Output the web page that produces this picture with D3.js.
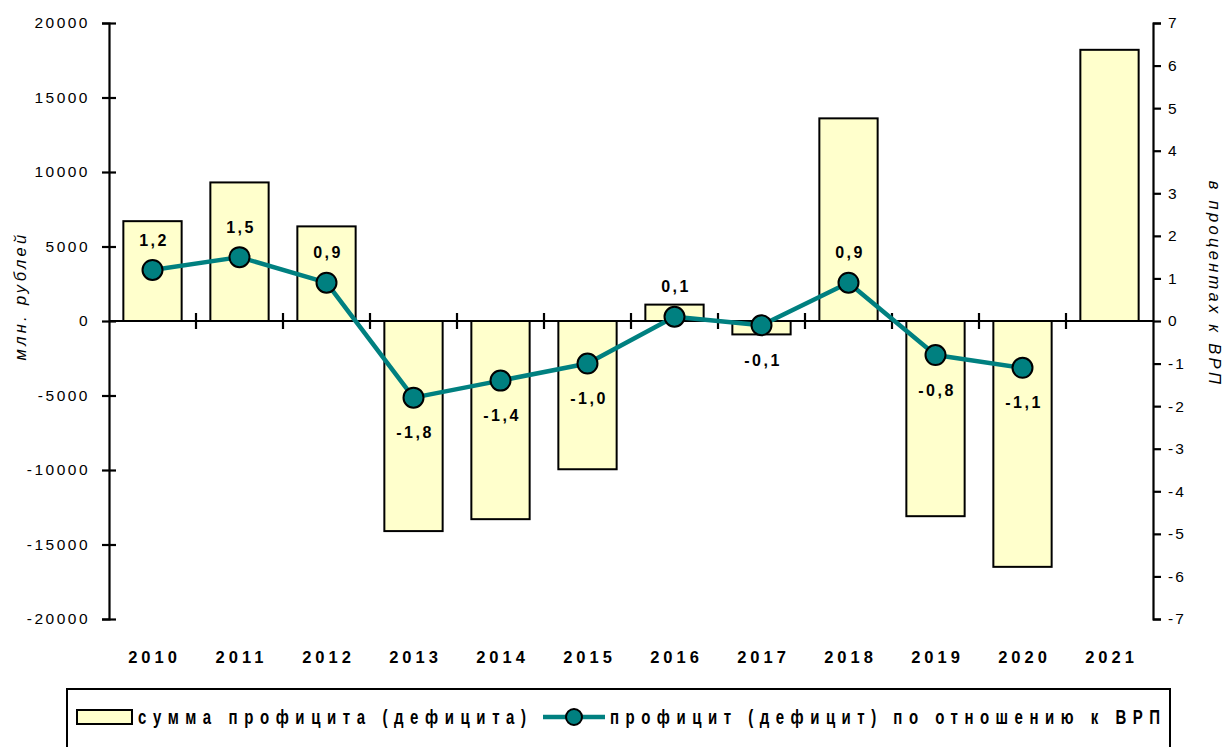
<!DOCTYPE html>
<html>
<head>
<meta charset="utf-8">
<script src="https://cdn.jsdelivr.net/npm/d3@7/dist/d3.min.js"></script>
<style>
  html, body { margin: 0; padding: 0; background: #fff; }
  svg { display: block; }
  text { font-family: "Liberation Sans", Arial, sans-serif; fill: #000; }
</style>
</head>
<body>
<svg id="chart" width="1226" height="747"></svg>
<script>
const years = ["2010","2011","2012","2013","2014","2015","2016","2017","2018","2019","2020","2021"];
const amounts = [6700, 9300, 6350, -14100, -13300, -9950, 1100, -900, 13600, -13100, -16500, 18200];
const shares = [1.2, 1.5, 0.9, -1.8, -1.4, -1.0, 0.1, -0.1, 0.9, -0.8, -1.1, null];
const shareLabels = ["1,2","1,5","0,9","-1,8","-1,4","-1,0","0,1","-0,1","0,9","-0,8","-1,1", null];
const leftTicks = [20000, 15000, 10000, 5000, 0, -5000, -10000, -15000, -20000];
const rightTicks = [7, 6, 5, 4, 3, 2, 1, 0, -1, -2, -3, -4, -5, -6, -7];
const leftTitle = "млн. рублей";
const rightTitle = "в процентах к ВРП";
const legendBar = "сумма профицита (дефицита)";
const legendLine = "профицит (дефицит) по отношению к ВРП";

const svg = d3.select("#chart");
const L = 109, R = 1153, T = 23, B = 619;

const x = d3.scaleBand().domain(years).range([L, R]).paddingInner(0.33).paddingOuter(0.165);
const yL = d3.scaleLinear().domain([-20000, 20000]).range([B, T]);
const yR = d3.scaleLinear().domain([-7, 7]).range([B, T]);
const y0 = yL(0);

// bars
svg.append("g").selectAll("rect").data(amounts).join("rect")
  .attr("x", (d, i) => x(years[i]))
  .attr("width", x.bandwidth())
  .attr("y", d => Math.min(yL(d), y0))
  .attr("height", d => Math.abs(yL(d) - y0))
  .attr("fill", "#FFFFCC")
  .attr("stroke", "#000")
  .attr("stroke-width", 2);

// left axis
const gL = svg.append("g").attr("transform", `translate(${L},0)`)
  .call(d3.axisLeft(yL).tickValues(leftTicks).tickSize(7).tickPadding(12).tickFormat(d => d));
gL.select(".domain").attr("stroke", "#000").attr("stroke-width", 2.2);
gL.selectAll(".tick line").attr("stroke", "#000").attr("stroke-width", 2.2).attr("x1", 7).attr("x2", -7);
gL.selectAll(".tick text").attr("font-size", 15.5).attr("letter-spacing", 2.5)
  .attr("font-family", "Liberation Sans, Arial, sans-serif").attr("fill", "#000");

// right axis
const gR = svg.append("g").attr("transform", `translate(${R},0)`)
  .call(d3.axisRight(yR).tickValues(rightTicks).tickSize(8).tickPadding(7).tickFormat(d => d));
gR.select(".domain").attr("stroke", "#000").attr("stroke-width", 2.2);
gR.selectAll(".tick line").attr("stroke", "#000").attr("stroke-width", 2.2);
gR.selectAll(".tick text").attr("font-size", 15.5).attr("letter-spacing", 2)
  .attr("font-family", "Liberation Sans, Arial, sans-serif").attr("fill", "#000");

// x axis line at zero
svg.append("line").attr("x1", L).attr("x2", R).attr("y1", y0).attr("y2", y0)
  .attr("stroke", "#000").attr("stroke-width", 2.2);
const step = x.step();
svg.append("g").selectAll("line").data(d3.range(1, years.length)).join("line")
  .attr("x1", k => L + k * step).attr("x2", k => L + k * step)
  .attr("y1", y0 - 8).attr("y2", y0 + 8)
  .attr("stroke", "#000").attr("stroke-width", 2.2);

// x labels
svg.append("g").selectAll("text").data(years).join("text")
  .attr("x", d => x(d) + x.bandwidth() / 2 + 2)
  .attr("y", 663)
  .attr("text-anchor", "middle")
  .attr("font-size", 16.5).attr("font-weight", "bold").attr("letter-spacing", 4)
  .text(d => d);

// line
const pts = shares.map((v, i) => ({ v, i })).filter(p => p.v !== null);
const line = d3.line().x(p => x(years[p.i]) + x.bandwidth() / 2).y(p => yR(p.v));
svg.append("path").datum(pts).attr("d", line)
  .attr("fill", "none").attr("stroke", "#008080").attr("stroke-width", 4.5).attr("stroke-linejoin", "round");
svg.append("g").selectAll("circle").data(pts).join("circle")
  .attr("cx", p => x(years[p.i]) + x.bandwidth() / 2)
  .attr("cy", p => yR(p.v))
  .attr("r", 10)
  .attr("fill", "#008080").attr("stroke", "#000").attr("stroke-width", 2);

// data labels
svg.append("g").selectAll("text").data(pts).join("text")
  .attr("x", p => x(years[p.i]) + x.bandwidth() / 2 + 1.5)
  .attr("y", p => yR(p.v) + (p.v >= 0 ? -30 : 35))
  .attr("dy", "0.35em")
  .attr("text-anchor", "middle")
  .attr("font-size", 16).attr("font-weight", "bold").attr("letter-spacing", 2.5)
  .text(p => shareLabels[p.i]);

// axis titles
svg.append("text")
  .attr("transform", "translate(26,296) rotate(-90)")
  .attr("text-anchor", "middle")
  .attr("font-size", 16.5).attr("font-style", "italic").attr("letter-spacing", 3.3)
  .text(leftTitle);
svg.append("text")
  .attr("transform", "translate(1209,284) rotate(90)")
  .attr("text-anchor", "middle")
  .attr("font-size", 16.5).attr("font-style", "italic").attr("letter-spacing", 3.3)
  .text(rightTitle);

// legend
const lg = svg.append("g");
lg.append("rect").attr("x", 67).attr("y", 689).attr("width", 1103).attr("height", 80)
  .attr("fill", "#fff").attr("stroke", "#000").attr("stroke-width", 2);
lg.append("rect").attr("x", 77).attr("y", 710).attr("width", 55).attr("height", 14)
  .attr("fill", "#FFFFCC").attr("stroke", "#000").attr("stroke-width", 2);
lg.append("g").attr("transform", "translate(138,717) scale(1,1.4)")
  .append("text").attr("x", 0).attr("y", 0).attr("dy", "0.35em")
  .attr("font-size", 15).attr("font-weight", "bold")
  .attr("textLength", 388).attr("lengthAdjust", "spacing")
  .text(legendBar);
lg.append("line").attr("x1", 543).attr("x2", 605).attr("y1", 717).attr("y2", 717)
  .attr("stroke", "#008080").attr("stroke-width", 4.5);
lg.append("circle").attr("cx", 574).attr("cy", 717).attr("r", 8)
  .attr("fill", "#008080").attr("stroke", "#000").attr("stroke-width", 2);
lg.append("g").attr("transform", "translate(610,717) scale(1,1.4)")
  .append("text").attr("x", 0).attr("y", 0).attr("dy", "0.35em")
  .attr("font-size", 15).attr("font-weight", "bold")
  .attr("textLength", 550).attr("lengthAdjust", "spacing")
  .text(legendLine);
</script>
</body>
</html>
